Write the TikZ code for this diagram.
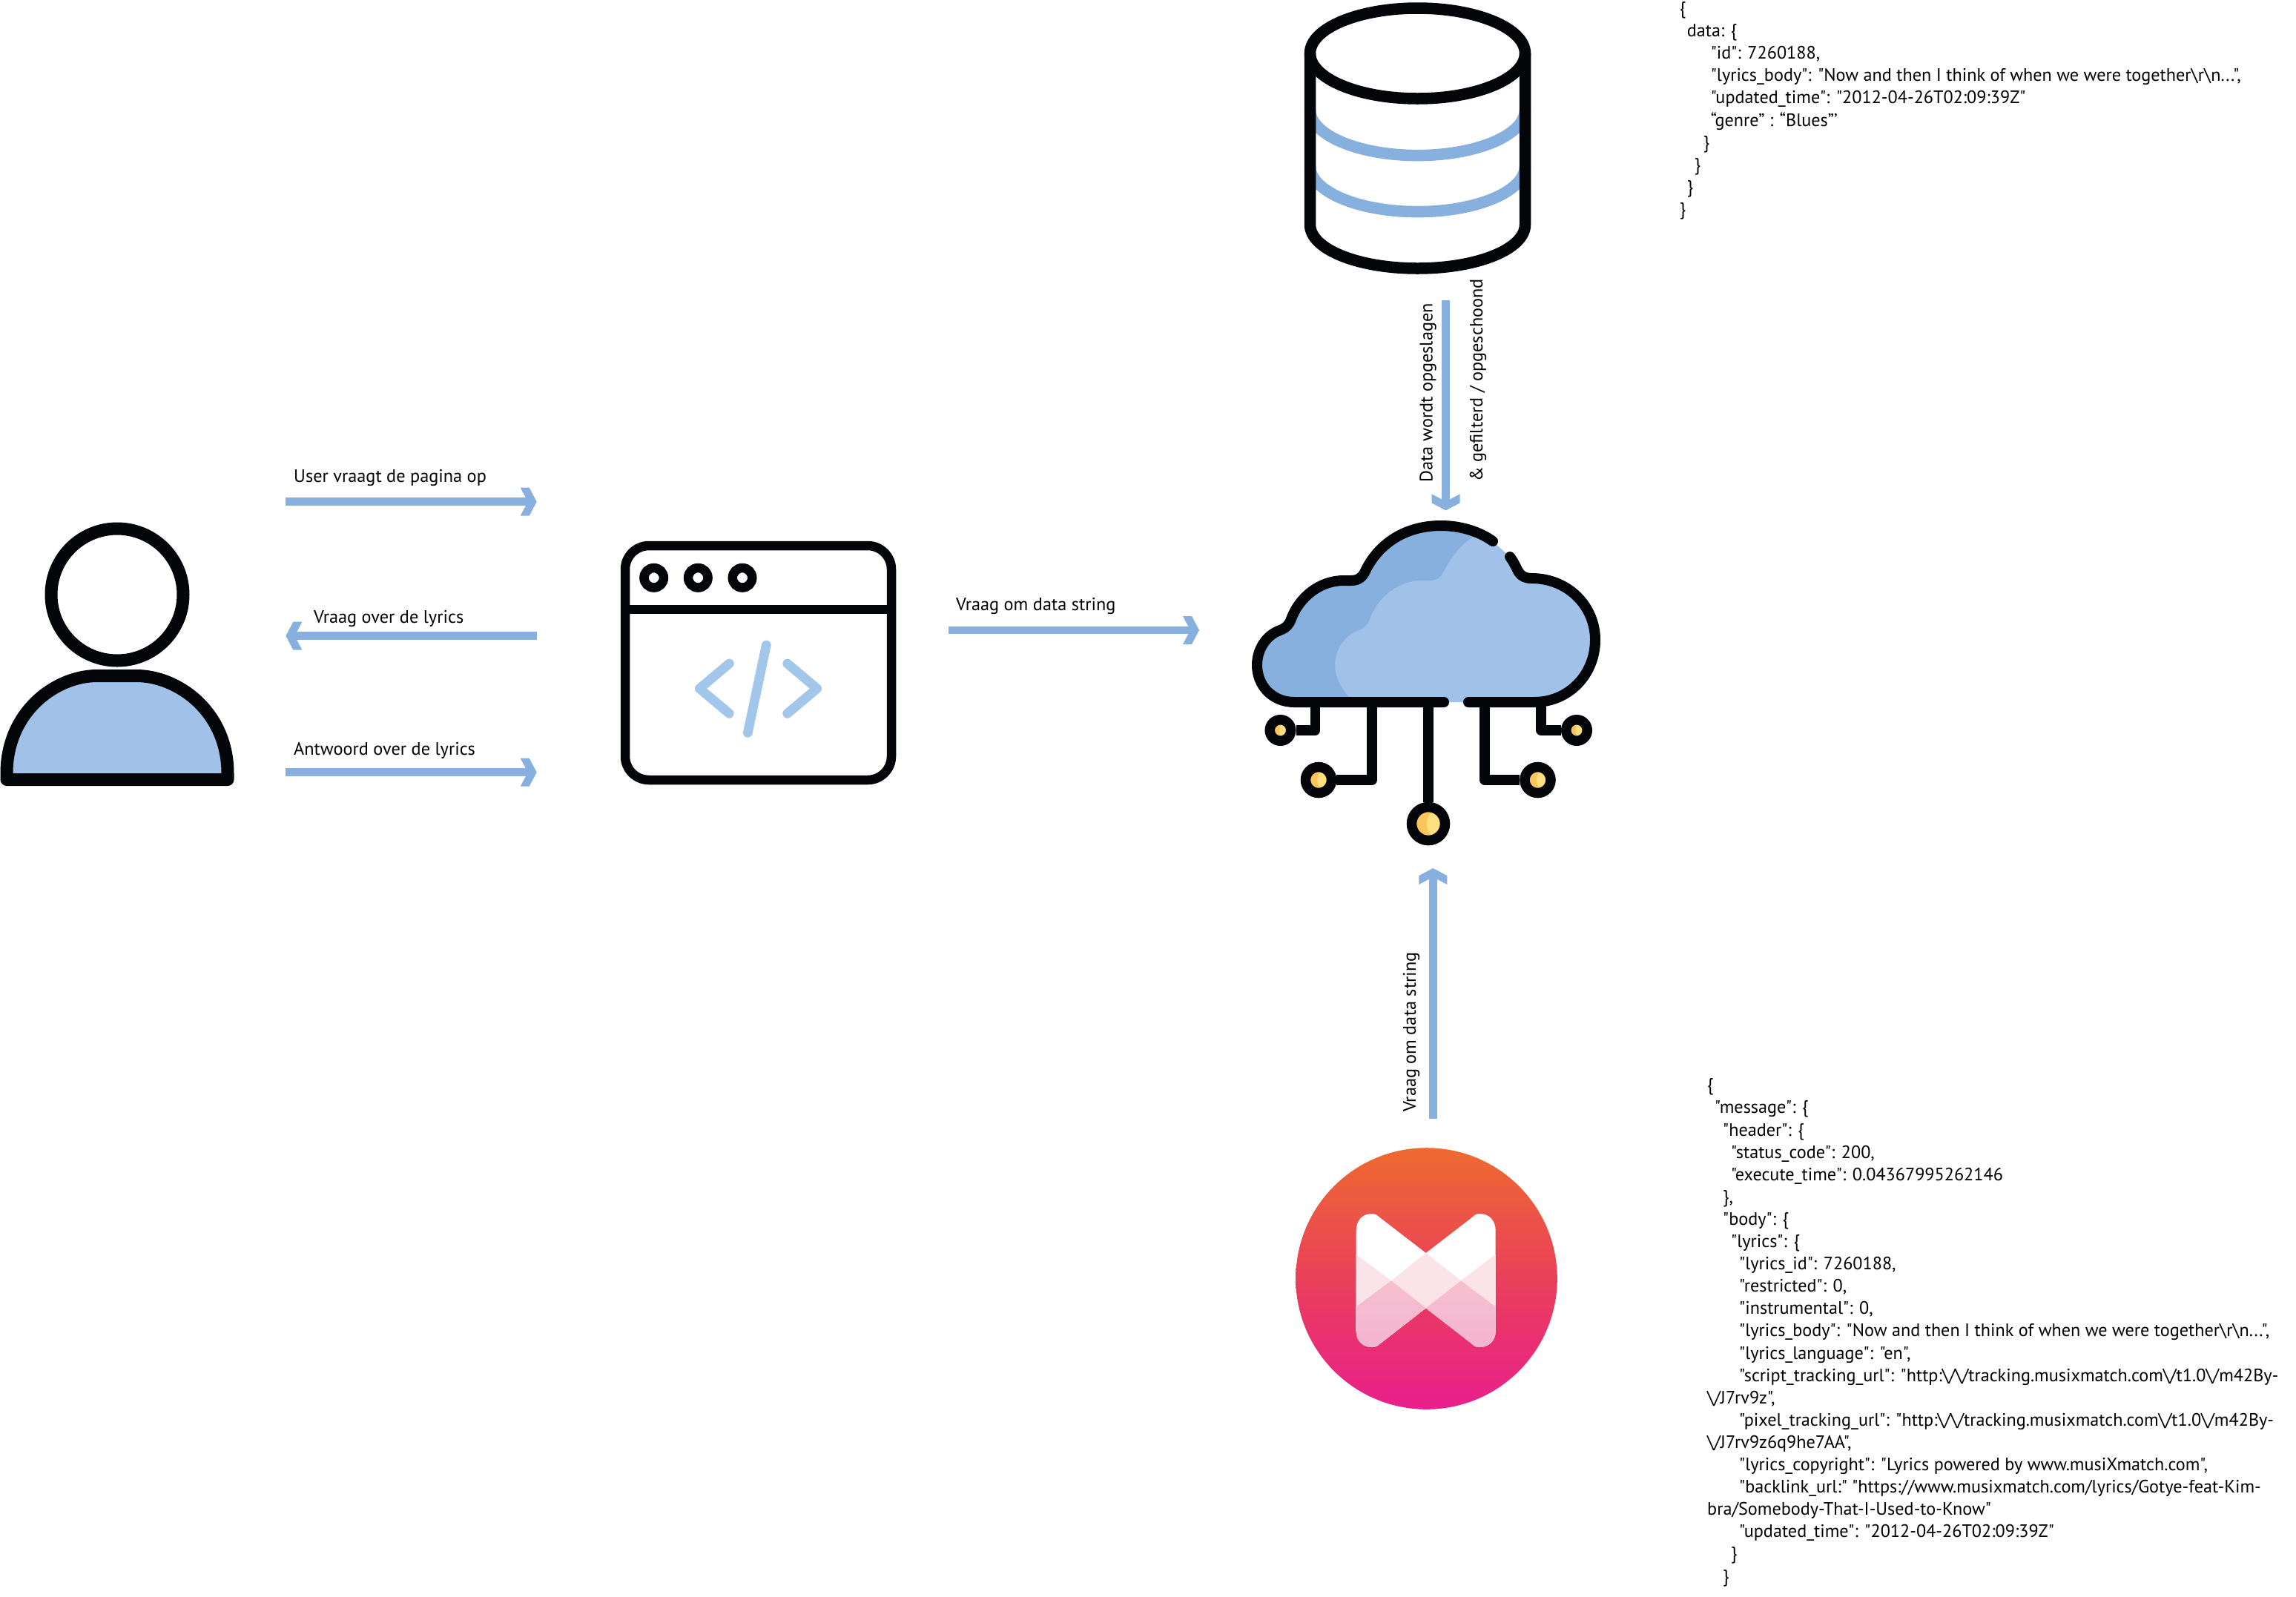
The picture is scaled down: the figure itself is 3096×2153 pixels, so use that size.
\documentclass[tikz,border=0pt]{standalone}
\usepackage{fontspec}
\setmainfont[Ligatures=TeXOff]{PT Sans}
\usetikzlibrary{arrows.meta}
\definecolor{inkblack}{HTML}{040508}
\definecolor{arrowblue}{HTML}{88B0DE}
\definecolor{lightblue}{HTML}{A0C2E9}
\definecolor{codeblue}{HTML}{A3C6EB}
\definecolor{goldL}{HTML}{FFE07F}
\definecolor{goldD}{HTML}{FCC55C}
\definecolor{mmtop}{HTML}{EE6A30}
\definecolor{mmmid}{HTML}{E9405A}
\definecolor{mmbot}{HTML}{E91E8C}
\definecolor{bowlight}{HTML}{FBE4E9}
\definecolor{bowdarkA}{HTML}{F6C0D0}
\definecolor{bowdarkB}{HTML}{F4B4CF}
\pgfdeclarearrow{
  name=Chevron,
  setup code={
    \pgfarrowssettipend{0pt}
    \pgfarrowssetlineend{-11pt}
    \pgfarrowssetbackend{-22pt}
    \pgfarrowssetvisualbackend{-11pt}
    \pgfarrowshullpoint{0pt}{0pt}
    \pgfarrowsupperhullpoint{-22pt}{19pt}
  },
  drawing code={
    \pgfpathmoveto{\pgfqpoint{0pt}{0pt}}
    \pgfpathlineto{\pgfqpoint{-10pt}{19pt}}
    \pgfpathlineto{\pgfqpoint{-22pt}{19pt}}
    \pgfpathlineto{\pgfqpoint{-12pt}{0pt}}
    \pgfpathlineto{\pgfqpoint{-22pt}{-19pt}}
    \pgfpathlineto{\pgfqpoint{-10pt}{-19pt}}
    \pgfpathclose
    \pgfusepathqfill
  }
}
\tikzset{
  x=1pt,y=-1pt,
  flowarrow/.style={draw=arrowblue,line width=10.5pt,-{Chevron[color=arrowblue,fill=arrowblue]}},
  lbl/.style={font=\fontsize{24.3}{24.3}\selectfont,inner sep=0pt},
  jsontext/.style={font=\fontsize{24.2}{30.1}\selectfont,inner sep=0pt,align=left,anchor=north west},
  thick ink/.style={draw=inkblack,line width=14pt,line cap=round,line join=round},
  body ink/.style={draw=inkblack,line width=17pt,line join=round},
  pin/.style={draw=inkblack,line width=13.5pt,line join=round},
  ring/.style={circle,draw=inkblack,line width=13.5pt,inner sep=0pt},
  db ink/.style={draw=inkblack,line width=15.5pt},
  db band/.style={draw=arrowblue,line width=15.5pt},
}
\begin{document}
\begin{tikzpicture}
\useasboundingbox (0,0) rectangle (3096,2153);
\fill[white] (0,0) rectangle (3096,2153);
% person
\path[fill=lightblue,body ink] (9,1051.5) -- (9,1043) .. controls (9,960) and (75,911.5) .. (131,911.5) -- (184,911.5) .. controls (240,911.5) and (307,960) .. (307,1043) -- (307,1051.5) -- cycle;
\node[circle,draw=inkblack,line width=17pt,fill=white,minimum size=178pt,inner sep=0pt] (head) at (158,802) {};
% browser
\node[draw=inkblack,line width=12.5pt,rounded corners=32pt,minimum width=359pt,minimum height=316pt,inner sep=0pt] (browser) at (1022.5,894) {};
\draw[draw=inkblack,line width=12.5pt] (browser.west |- 0,822) -- (browser.east |- 0,822);
\foreach \n/\x in {a/881.7,b/941.3,c/1001}
  \node[ring,line width=12.5pt,minimum size=26.5pt] (dot\n) at (\x,779.3) {};
\draw[draw=codeblue,line width=12.7pt,line cap=round,line join=round] (983.3,895) -- (943.3,928.7) -- (983.3,962.3);
\draw[draw=codeblue,line width=12.7pt,line cap=round,line join=round] (1061.7,895) -- (1101.7,928.7) -- (1061.7,962.3);
\draw[draw=codeblue,line width=12.7pt,line cap=round] (1033.3,870) -- (1008.3,988.3);
% database
\draw[db band] (1766.5,148) arc[start angle=180,end angle=0,x radius=145,y radius=61.6];
\draw[db band] (1766.5,224) arc[start angle=180,end angle=0,x radius=145,y radius=61.6];
\draw[db ink] (1911.5,72) ellipse (145 and 61);
\draw[db ink] (1766.5,72) -- (1766.5,303) .. controls (1766.5,336) and (1831,362) .. (1911.5,362) .. controls (1992,362) and (2056.5,336) .. (2056.5,303) -- (2056.5,72);
% cloud
\fill[lightblue] (1745,947) .. controls (1716,947) and (1695,925) .. (1695,897) .. controls (1695,876) and (1707,857) .. (1726,850) .. controls (1734,847) and (1738,843) .. (1741,835) .. controls (1752,805) and (1780,783) .. (1812,783) -- (1822,783) .. controls (1832,783) and (1838,778) .. (1842,768) .. controls (1860,733) and (1895,709) .. (1943,709) .. controls (1970,709) and (1995,717) .. (2013,730) -- (2036,751) .. controls (2042,759) and (2045,767) .. (2048,772) .. controls (2052,778) and (2058,780) .. (2065,780) .. controls (2115,780) and (2151,818) .. (2151,863) .. controls (2151,910) and (2115,947) .. (2069,947) -- cycle;
\fill[arrowblue] (1745,947) .. controls (1716,947) and (1695,925) .. (1695,897) .. controls (1695,876) and (1707,857) .. (1726,850) .. controls (1734,847) and (1738,843) .. (1741,835) .. controls (1752,805) and (1780,783) .. (1812,783) -- (1822,783) .. controls (1832,783) and (1838,778) .. (1842,768) .. controls (1860,733) and (1895,709) .. (1943,709) .. controls (1960,709) and (1976,714) .. (1990,722) .. controls (1970,733) and (1957,752) .. (1948,768) .. controls (1944,778) and (1938,783) .. (1928,783) -- (1918,783) .. controls (1885,783) and (1858,805) .. (1847,835) .. controls (1844,843) and (1840,847) .. (1832,850) .. controls (1813,857) and (1800,876) .. (1800,897) .. controls (1800,915) and (1810,932) .. (1826,947) -- cycle;
\draw[thick ink] (1947,947) -- (1745,947) .. controls (1716,947) and (1695,925) .. (1695,897) .. controls (1695,876) and (1707,857) .. (1726,850) .. controls (1734,847) and (1738,843) .. (1741,835) .. controls (1752,805) and (1780,783) .. (1812,783) -- (1822,783) .. controls (1832,783) and (1838,778) .. (1842,768) .. controls (1860,733) and (1895,709) .. (1943,709) .. controls (1970,709) and (1995,717) .. (2013,730);
\draw[thick ink] (2036,751) .. controls (2042,759) and (2045,767) .. (2048,772) .. controls (2052,778) and (2058,780) .. (2065,780) .. controls (2115,780) and (2151,818) .. (2151,863) .. controls (2151,910) and (2115,947) .. (2069,947) -- (1980,947);
% pins
\foreach \n/\x/\y/\w in {la/1726.5/985/28.5,lb/1778/1052/35,m/1926/1111/45,rb/2073.5/1052/35,ra/2126/985/28.5}{
  \fill[goldD] (\x,\y) circle ({\w/2});
  \begin{scope}
    \clip (\x,\y) circle ({\w/2});
    \fill[goldL] (\x+\w*0.45,\y) circle ({\w/2});
  \end{scope}
  \node[ring,minimum size=\w pt] (pin\n) at (\x,\y) {};
}
\coordinate (stemla) at (1773.5,947);
\coordinate (stemlb) at (1850,947);
\coordinate (stemm) at (1926,947);
\coordinate (stemrb) at (2002,947);
\coordinate (stemra) at (2078,947);
\draw[pin] (pinla.east) -| (stemla);
\draw[pin] (pinlb.east) -| (stemlb);
\draw[pin] (pinm.north) -- (stemm);
\draw[pin] (pinrb.west) -| (stemrb);
\draw[pin] (pinra.west) -| (stemra);
% musixmatch
\shade[top color=mmtop,bottom color=mmbot,middle color=mmmid] (1923.5,1724.5) circle (176.3);
\begin{scope}
  \clip (1828.7,1660) .. controls (1828.7,1645) and (1838,1637) .. (1850,1637) .. controls (1855,1637) and (1858,1640) .. (1860,1641.7) -- (1922.7,1690) -- (1985.4,1641.7) .. controls (1987,1640) and (1990,1637) .. (1995,1637) .. controls (2007,1637) and (2016.7,1645) .. (2016.7,1660) -- (2016.7,1795) .. controls (2016.7,1809) and (2007,1817) .. (1995,1817) .. controls (1990,1817) and (1987,1815) .. (1985.4,1813) -- (1922.7,1764.3) -- (1860,1813) .. controls (1858,1815) and (1855,1817) .. (1850,1817) .. controls (1838,1817) and (1828.7,1809) .. (1828.7,1795) -- cycle;
  \fill[white] (1820,1630) rectangle (2025,1825);
  \fill[bowlight] (1820,1685.5) -- (1876,1727.3) -- (1922.7,1690) -- (1970,1727.3) -- (2025,1685.5) -- (2025,1825) -- (1820,1825) -- cycle;
  \shade[top color=bowdarkA,bottom color=bowdarkB] (1820,1769) -- (1876,1727.3) -- (1922.7,1764.3) -- (1970,1727.3) -- (2025,1769) -- (2025,1825) -- (1820,1825) -- cycle;
\end{scope}
% arrows
\coordinate (a1s) at (385.4,676.7); \coordinate (a1e) at (723.7,676.7);
\coordinate (a2s) at (723.7,857.7); \coordinate (a2e) at (385.4,857.7);
\coordinate (a3s) at (385.4,1041.7); \coordinate (a3e) at (723.7,1041.7);
\coordinate (a4s) at (1279,850); \coordinate (a4e) at (1617,850);
\coordinate (a5s) at (1949.6,405); \coordinate (a5e) at (1949.6,688.4);
\coordinate (a6s) at (1932.3,1508.7); \coordinate (a6e) at (1932.3,1171);
\foreach \k in {1,...,6} \draw[flowarrow] (a\k s) -- (a\k e);
\node[lbl,anchor=base west] (t1) at (396,650) {User vraagt de pagina op};
\node[lbl,anchor=base west] (t2) at (423,840) {Vraag over de lyrics};
\node[lbl,anchor=base west] (t3) at (396,1018) {Antwoord over de lyrics};
\node[lbl,anchor=base west] (t4) at (1289,823) {Vraag om data string};
\node[lbl,anchor=base west,rotate=90] (t5) at (1931.7,650.4) {Data wordt opgeslagen};
\node[lbl,anchor=base west,rotate=90] (t6) at (1999,650) {\& gefilterd / opgeschoond};
\node[lbl,anchor=base west,rotate=90] (t7) at (1909,1500) {Vraag om data string};
% json
\node[jsontext] (json1) at (2264.6,2.4) {\{\\
\hspace*{10pt}data: \{\\
\hspace*{42pt}"id": 7260188,\\
\hspace*{42pt}"lyrics\_body": "Now and then I think of when we were together\textbackslash r\textbackslash n...",\\
\hspace*{42pt}"updated\_time": "2012-04-26T02:09:39Z"\\
\hspace*{42pt}“genre” : “Blues”’\\
\hspace*{32pt}\}\\
\hspace*{20pt}\}\\
\hspace*{10pt}\}\\
\}};
\node[jsontext] (json2) at (2302,1454.7) {\{\\
\hspace*{10pt}"message": \{\\
\hspace*{21pt}"header": \{\\
\hspace*{32pt}"status\_code": 200,\\
\hspace*{32pt}"execute\_time": 0.04367995262146\\
\hspace*{21pt}\},\\
\hspace*{21pt}"body": \{\\
\hspace*{32pt}"lyrics": \{\\
\hspace*{43pt}"lyrics\_id": 7260188,\\
\hspace*{43pt}"restricted": 0,\\
\hspace*{43pt}"instrumental": 0,\\
\hspace*{43pt}"lyrics\_body": "Now and then I think of when we were together\textbackslash r\textbackslash n...",\\
\hspace*{43pt}"lyrics\_language": "en",\\
\hspace*{43pt}"script\_tracking\_url": "http:\textbackslash/\textbackslash/tracking.musixmatch.com\textbackslash/t1.0\textbackslash/m42By-\\
\textbackslash/J7rv9z",\\
\hspace*{43pt}"pixel\_tracking\_url": "http:\textbackslash/\textbackslash/tracking.musixmatch.com\textbackslash/t1.0\textbackslash/m42By-\\
\textbackslash/J7rv9z6q9he7AA",\\
\hspace*{43pt}"lyrics\_copyright": "Lyrics powered by www.musiXmatch.com",\\
\hspace*{43pt}"backlink\_url:" "https://www.musixmatch.com/lyrics/Gotye-feat-Kim-\\
bra/Somebody-That-I-Used-to-Know"\\
\hspace*{43pt}"updated\_time": "2012-04-26T02:09:39Z"\\
\hspace*{32pt}\}\\
\hspace*{21pt}\}};
\end{tikzpicture}
\end{document}
